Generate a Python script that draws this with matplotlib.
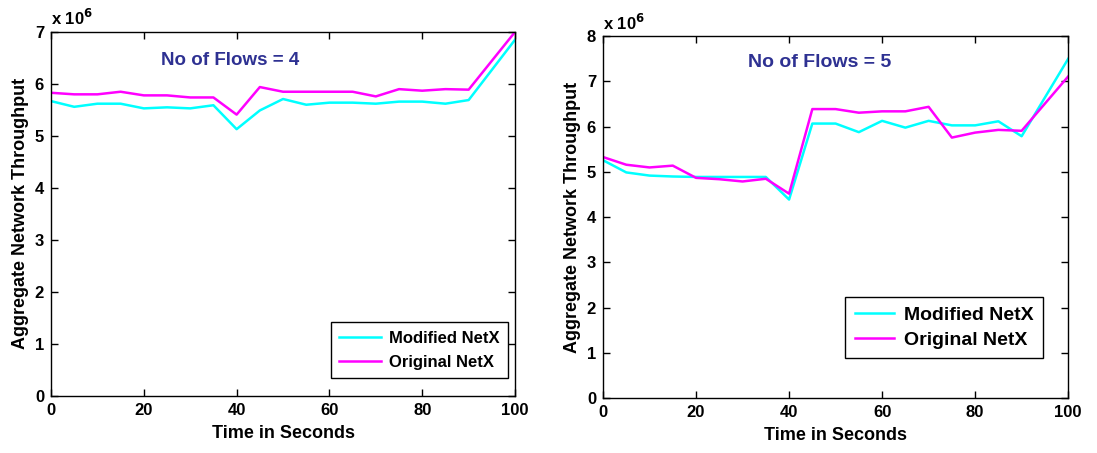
import matplotlib.pyplot as plt

plt.rcParams['font.family'] = ['Liberation Sans', 'DejaVu Sans']
plt.rcParams['font.weight'] = 'bold'

# time axis (seconds)
t = [0, 5, 10, 15, 20, 25, 30, 35, 40, 45, 50, 55, 60, 65, 70, 75, 80, 85, 90, 100]

# throughput values in units of 1e6
mod_4 = [5.67, 5.56, 5.62, 5.62, 5.53, 5.55, 5.53, 5.59, 5.13, 5.49,
         5.71, 5.60, 5.64, 5.64, 5.62, 5.66, 5.66, 5.62, 5.69, 6.85]
orig_4 = [5.83, 5.80, 5.80, 5.85, 5.78, 5.78, 5.74, 5.74, 5.41, 5.94,
          5.85, 5.85, 5.85, 5.85, 5.76, 5.90, 5.87, 5.90, 5.89, 7.00]

mod_5 = [5.26, 4.99, 4.92, 4.90, 4.89, 4.89, 4.89, 4.89, 4.39, 6.07,
         6.07, 5.88, 6.13, 5.98, 6.13, 6.03, 6.03, 6.12, 5.79, 7.50]
orig_5 = [5.33, 5.16, 5.10, 5.14, 4.87, 4.84, 4.79, 4.85, 4.52, 6.39,
          6.39, 6.31, 6.34, 6.34, 6.44, 5.76, 5.87, 5.93, 5.91, 7.11]

fig = plt.figure(figsize=(10.97, 4.53), dpi=100)
ax1 = fig.add_axes([0.0465, 0.126, 0.423, 0.8035])
ax2 = fig.add_axes([0.5497, 0.121, 0.424, 0.799])

title_col = '#2e3192'

def style(ax, ymax, title, tx, ty, legend_anchor, legend_fs, title_fs, hl, ls):
    ax.set_xlim(0, 100)
    ax.set_ylim(0, ymax)
    ax.set_xticks(range(0, 101, 20))
    ax.set_yticks(range(0, ymax + 1))
    ax.tick_params(direction='in', top=True, right=True, labelsize=12,
                   length=5, width=1, pad=5)
    for s in ax.spines.values():
        s.set_linewidth(1)
    ax.set_xlabel('Time in Seconds', fontsize=13, fontweight='bold', labelpad=5)
    ax.set_ylabel('Aggregate Network Throughput', fontsize=13, fontweight='bold', labelpad=4)
    ax.text(tx, ty, title, color=title_col, fontsize=title_fs, fontweight='bold',
            ha='center', va='center')
    ax.text(0.0, 1.01, r'x 10$^6$', transform=ax.transAxes, fontsize=12,
            ha='left', va='bottom')
    leg = ax.legend(loc='lower right', bbox_to_anchor=legend_anchor,
                    fontsize=legend_fs, fancybox=False, framealpha=1,
                    edgecolor='black', handlelength=hl, handletextpad=0.5,
                    borderpad=0.5, labelspacing=ls, borderaxespad=0)
    leg.get_frame().set_linewidth(1)

ax1.plot(t, mod_4, color='cyan', lw=1.8, label='Modified NetX')
ax1.plot(t, orig_4, color='magenta', lw=1.8, label='Original NetX')
style(ax1, 7, 'No of Flows = 4', 38.5, 6.46, (0.985, 0.049), 12, 13.5, 2.5, 0.55)

ax2.plot(t, mod_5, color='cyan', lw=1.8, label='Modified NetX')
ax2.plot(t, orig_5, color='magenta', lw=1.8, label='Original NetX')
style(ax2, 8, 'No of Flows = 5', 46.5, 7.43, (0.946, 0.11), 14, 14, 2.0, 0.35)

fig.savefig('out.png', dpi=100)
